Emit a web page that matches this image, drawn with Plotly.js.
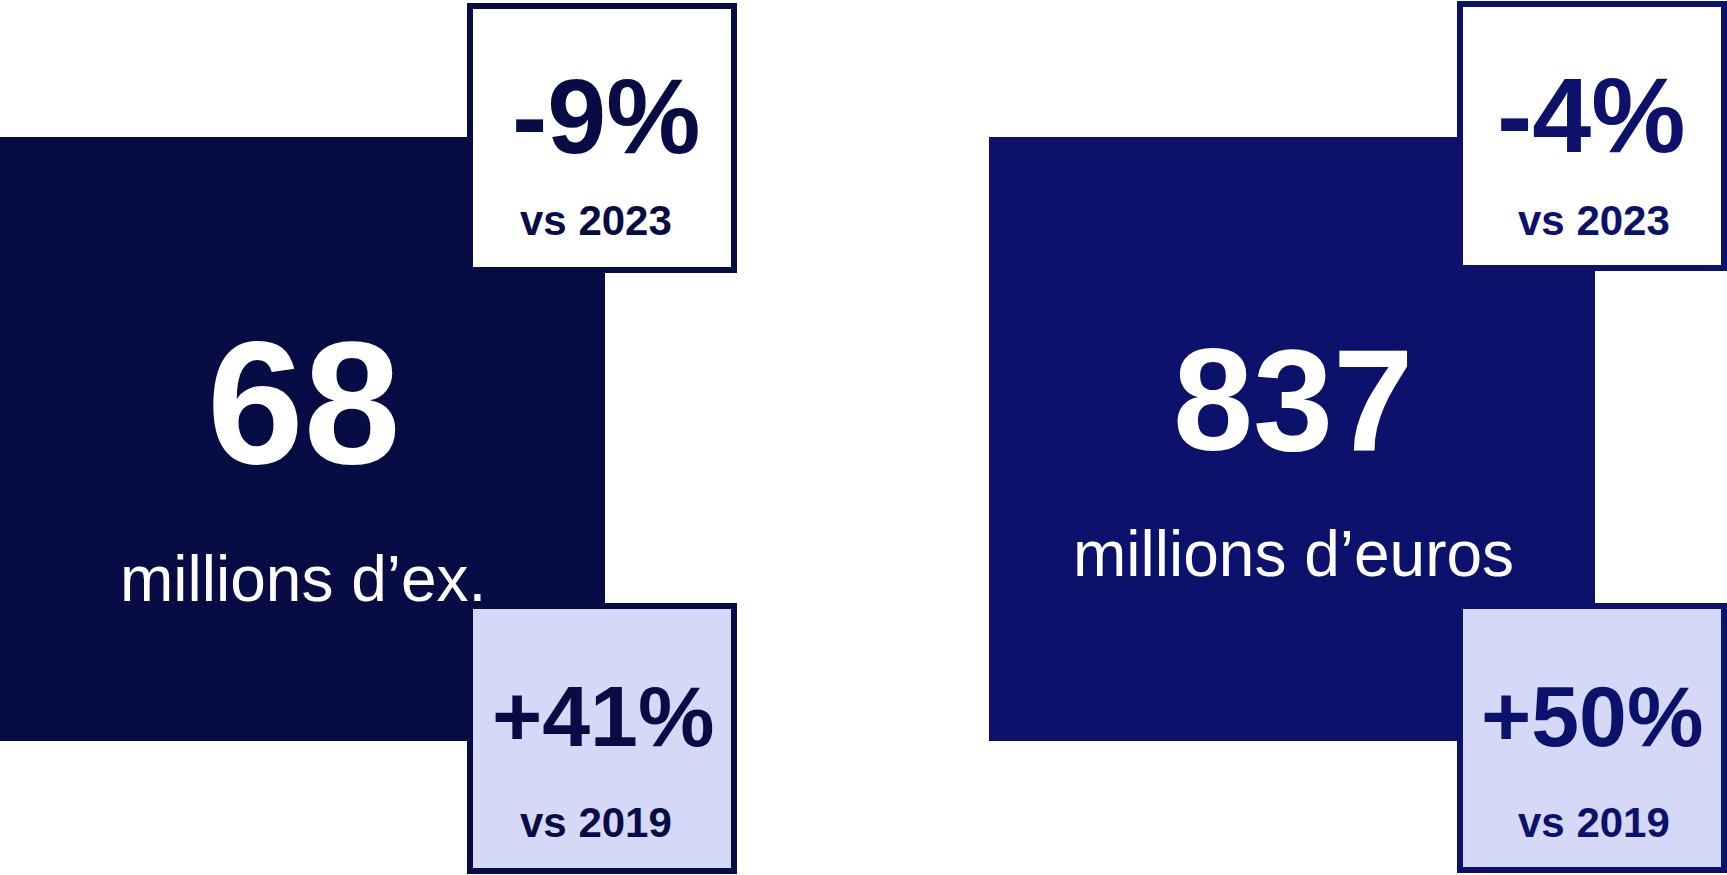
<!DOCTYPE html>
<html>
<head>
<meta charset="utf-8">
<script src="https://cdn.plot.ly/plotly-3.0.1.min.js"></script>
<style>
  html, body { margin: 0; padding: 0; background: #ffffff; overflow: hidden; }
  #chart { width: 1727px; height: 875px; }
</style>
</head>
<body>
<div id="chart"></div>
<script>
// ---- Data ----
const metricValues = [68, 837];
const metricUnits = ["millions d’ex.", "millions d’euros"];
const changeVs2023 = [-9, -4];
const changeVs2019 = [41, 50];
const compareLabels = ["vs 2023", "vs 2019"];

// ---- Layout (pixel-space axes) ----
const W = 1727, H = 875;
const FONT = "Liberation Sans, Arial, Helvetica, sans-serif";
const mainColors = ["#080C44", "#0C126B"];
const lavender = "#D6D8F8";

const panels = [
  { big: [0, 605, 137, 741], top: [470, 734, 6, 270], bot: [470, 734, 606, 871],
    valX: 304, valBase: 463, unitX: 303, unitBase: 601.5,
    pctTopX: 606, pctTopBase: 153, vsTopX: 596, vsTopBase: 235.5,
    pctBotX: 603, pctBotBase: 745.5, vsBotX: 596, vsBotBase: 837, valSize: 174 },
  { big: [989, 1595, 137, 741], top: [1460, 1724, 4, 268], bot: [1460, 1724, 606, 870],
    valX: 1293, valBase: 450, unitX: 1293, unitBase: 576.5,
    pctTopX: 1591, pctTopBase: 152, vsTopX: 1594, vsTopBase: 235.5,
    pctBotX: 1592, pctBotBase: 745.5, vsBotX: 1594, vsBotBase: 837, valSize: 144 }
];

function fmtPct(v) { return (v > 0 ? "+" : (v < 0 ? "-" : "")) + Math.abs(v) + "%"; }
// annotation with yanchor middle: mid of text bbox = baseline - 0.3465*fontSize
function midY(base, fs) { return base - 0.3465 * fs; }

const shapes = [];
const annotations = [];

panels.forEach((p, i) => {
  const c = mainColors[i];
  shapes.push({ type: "rect", xref: "x", yref: "y", x0: p.big[0], x1: p.big[1], y0: p.big[2], y1: p.big[3],
                fillcolor: c, line: { width: 0 }, layer: "below" });
  shapes.push({ type: "rect", xref: "x", yref: "y", x0: p.top[0], x1: p.top[1], y0: p.top[2], y1: p.top[3],
                fillcolor: "#FFFFFF", line: { color: c, width: 6 }, layer: "below" });
  shapes.push({ type: "rect", xref: "x", yref: "y", x0: p.bot[0], x1: p.bot[1], y0: p.bot[2], y1: p.bot[3],
                fillcolor: lavender, line: { color: c, width: 6 }, layer: "below" });

  const ann = (text, x, base, fs, color, bold) => annotations.push({
    xref: "x", yref: "y", x: x, y: midY(base, fs), xanchor: "center", yanchor: "middle",
    text: bold ? "<b>" + text + "</b>" : text, showarrow: false,
    font: { family: FONT, size: fs, color: color }
  });

  ann(String(metricValues[i]), p.valX, p.valBase, p.valSize, "#FFFFFF", true);
  ann(metricUnits[i], p.unitX, p.unitBase, 64, "#FFFFFF", false);
  ann(fmtPct(changeVs2023[i]), p.pctTopX, p.pctTopBase, 106, c, true);
  ann(compareLabels[0], p.vsTopX, p.vsTopBase, 42, c, true);
  ann(fmtPct(changeVs2019[i]), p.pctBotX, p.pctBotBase, 86, c, true);
  ann(compareLabels[1], p.vsBotX, p.vsBotBase, 42, c, true);
});

const layout = {
  width: W, height: H,
  margin: { l: 0, r: 0, t: 0, b: 0, pad: 0 },
  paper_bgcolor: "#FFFFFF", plot_bgcolor: "#FFFFFF",
  xaxis: { range: [0, W], visible: false, fixedrange: true },
  yaxis: { range: [H, 0], visible: false, fixedrange: true },
  showlegend: false,
  shapes: shapes,
  annotations: annotations
};

Plotly.newPlot("chart", [{ x: [], y: [], type: "scatter", hoverinfo: "skip" }], layout,
  { staticPlot: true, displayModeBar: false });
</script>
</body>
</html>
